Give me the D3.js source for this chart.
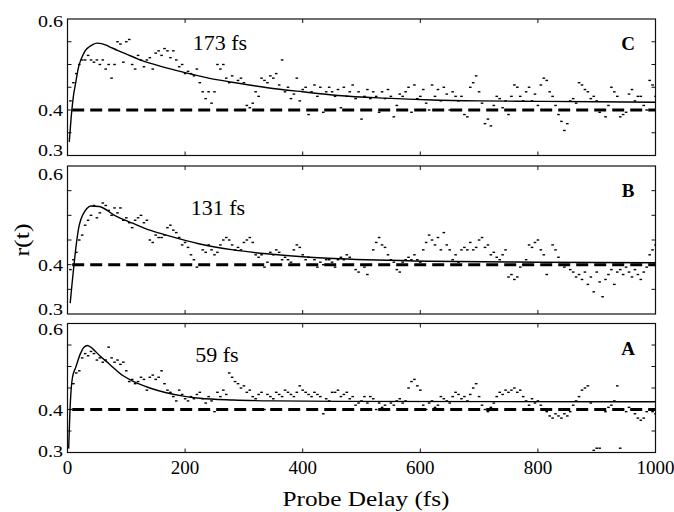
<!DOCTYPE html>
<html><head><meta charset="utf-8">
<script src="https://cdn.jsdelivr.net/npm/d3@7"></script>
<style>body{margin:0;background:#fff}svg{display:block}svg text{font-family:'Liberation Serif','Times New Roman',serif}</style>
</head><body>
<svg id="c" width="674" height="512"></svg>
<script>
// ---- data ----
const xTicks = [0, 200, 400, 600, 800, 1000];
const yTickLabels = [0.3, 0.4, 0.6];
const yMinorTicks = [0.35, 0.4, 0.45, 0.5, 0.55];
const baseline = 0.4;
const panelNames = ["C", "B", "A"];
const lifetimes = ["173 fs", "131 fs", "59 fs"];
const dataStep = 5; // fs between samples, t = 5..1000

const dataC = [
0.42,0.46,0.48,0.50,0.51,0.51,0.52,0.51,0.505,0.51,0.50,0.51,0.49,0.50,0.47,0.50,0.55,0.545,0.505,0.55,
0.555,0.50,0.49,0.52,0.51,0.495,0.51,0.515,0.49,0.525,0.53,0.52,0.535,0.53,0.515,0.53,0.51,0.495,0.50,0.48,
0.485,0.48,0.475,0.49,0.46,0.44,0.425,0.44,0.415,0.44,0.50,0.49,0.50,0.47,0.46,0.475,0.40,0.465,0.47,0.46,
0.41,0.405,0.415,0.44,0.43,0.47,0.465,0.46,0.475,0.47,0.48,0.455,0.51,0.44,0.45,0.425,0.435,0.47,0.42,0.445,
0.45,0.39,0.44,0.455,0.43,0.45,0.395,0.44,0.45,0.44,0.43,0.445,0.405,0.45,0.43,0.44,0.455,0.425,0.44,0.38,
0.43,0.445,0.425,0.44,0.43,0.395,0.44,0.425,0.445,0.43,0.385,0.41,0.435,0.43,0.44,0.45,0.395,0.455,0.425,0.43,
0.445,0.415,0.40,0.455,0.43,0.445,0.42,0.45,0.435,0.40,0.44,0.43,0.42,0.43,0.39,0.385,0.45,0.46,0.475,0.44,
0.415,0.37,0.38,0.365,0.41,0.43,0.425,0.405,0.42,0.39,0.43,0.455,0.45,0.43,0.42,0.44,0.45,0.42,0.435,0.41,
0.455,0.47,0.465,0.44,0.43,0.41,0.39,0.375,0.355,0.37,0.42,0.425,0.415,0.46,0.455,0.445,0.44,0.425,0.43,0.42,
0.395,0.40,0.385,0.41,0.45,0.44,0.43,0.385,0.39,0.395,0.435,0.445,0.42,0.43,0.43,0.41,0.40,0.465,0.455,0.43
];
const dataB = [
0.39,0.41,0.425,0.45,0.46,0.48,0.49,0.50,0.52,0.495,0.505,0.525,0.52,0.51,0.50,0.515,0.505,0.515,0.49,0.495,
0.485,0.475,0.49,0.495,0.50,0.485,0.49,0.45,0.445,0.46,0.455,0.455,0.46,0.475,0.48,0.47,0.465,0.455,0.44,0.445,
0.435,0.42,0.41,0.395,0.40,0.43,0.425,0.44,0.43,0.42,0.425,0.44,0.45,0.455,0.45,0.44,0.43,0.435,0.43,0.445,
0.45,0.455,0.445,0.42,0.415,0.42,0.395,0.405,0.425,0.42,0.43,0.425,0.41,0.415,0.41,0.405,0.43,0.44,0.435,0.42,
0.41,0.415,0.40,0.41,0.395,0.405,0.40,0.41,0.41,0.405,0.395,0.41,0.415,0.41,0.42,0.415,0.40,0.39,0.385,0.40,
0.395,0.38,0.40,0.43,0.445,0.455,0.44,0.435,0.42,0.41,0.405,0.39,0.385,0.405,0.41,0.415,0.41,0.42,0.41,0.405,
0.43,0.445,0.46,0.45,0.44,0.455,0.43,0.465,0.44,0.43,0.41,0.42,0.405,0.43,0.435,0.43,0.445,0.43,0.435,0.45,
0.455,0.435,0.44,0.42,0.425,0.415,0.41,0.42,0.43,0.375,0.38,0.37,0.375,0.395,0.40,0.41,0.44,0.435,0.445,0.45,
0.43,0.42,0.38,0.40,0.44,0.43,0.415,0.40,0.395,0.40,0.39,0.385,0.375,0.38,0.37,0.385,0.36,0.375,0.345,0.385,
0.365,0.335,0.37,0.38,0.39,0.36,0.385,0.39,0.38,0.395,0.385,0.375,0.39,0.38,0.37,0.385,0.395,0.42,0.43,0.44
];
const dataA = [
0.40,0.46,0.485,0.49,0.52,0.53,0.525,0.535,0.53,0.515,0.52,0.51,0.515,0.545,0.52,0.51,0.515,0.505,0.51,0.49,
0.465,0.47,0.46,0.465,0.475,0.47,0.445,0.475,0.48,0.47,0.475,0.49,0.46,0.445,0.44,0.43,0.42,0.445,0.435,0.425,
0.42,0.43,0.425,0.435,0.44,0.425,0.415,0.43,0.42,0.395,0.44,0.43,0.445,0.435,0.485,0.475,0.465,0.46,0.45,0.455,
0.44,0.445,0.43,0.425,0.435,0.44,0.40,0.435,0.43,0.425,0.44,0.435,0.43,0.445,0.44,0.435,0.43,0.44,0.455,0.445,
0.44,0.435,0.43,0.44,0.435,0.43,0.39,0.425,0.42,0.44,0.44,0.445,0.43,0.435,0.44,0.425,0.43,0.41,0.415,0.42,
0.43,0.415,0.43,0.425,0.40,0.415,0.405,0.41,0.40,0.415,0.41,0.42,0.425,0.415,0.42,0.45,0.465,0.47,0.455,0.445,
0.41,0.40,0.415,0.42,0.405,0.41,0.43,0.425,0.42,0.415,0.43,0.44,0.435,0.425,0.43,0.42,0.435,0.45,0.46,0.43,
0.41,0.40,0.395,0.405,0.415,0.43,0.44,0.435,0.445,0.44,0.445,0.45,0.44,0.445,0.43,0.42,0.41,0.425,0.415,0.42,
0.41,0.40,0.395,0.385,0.38,0.39,0.385,0.38,0.39,0.385,0.395,0.41,0.42,0.43,0.445,0.45,0.455,0.415,0.305,0.31,
0.31,0.40,0.395,0.405,0.41,0.42,0.455,0.31,0.40,0.395,0.405,0.40,0.39,0.38,0.375,0.38,0.395,0.40,0.395,0.39
];

// fitted curves as [t, r]
const fitC = [[3,0.33],[6,0.38],[10,0.43],[14,0.46],[18,0.49],[22,0.508],[26,0.52],[30,0.53],[36,0.538],[42,0.543],[50,0.547],[58,0.546],[70,0.54],[85,0.531],[100,0.523],[120,0.512],[140,0.503],[170,0.492],[200,0.482],[240,0.47],[280,0.461],[340,0.449],[400,0.44],[460,0.432],[540,0.426],[620,0.422],[700,0.42],[800,0.419],[900,0.418],[1000,0.417]];
const fitB = [[4.6,0.322],[20,0.48],[33,0.514],[40,0.519],[54,0.518],[80,0.50],[111,0.484],[140,0.47],[168,0.46],[225,0.442],[282,0.43],[339,0.422],[400,0.416],[463,0.412],[617,0.407],[800,0.405],[1000,0.404]];
const fitA = [[2,0.309],[5,0.42],[8.5,0.475],[14,0.498],[22,0.53],[28,0.545],[34,0.549],[43,0.541],[54,0.526],[71,0.506],[94,0.479],[111,0.466],[140,0.45],[168,0.439],[197,0.431],[225,0.426],[282,0.422],[350,0.42],[463,0.419],[1000,0.418]];

// ---- drawing ----
const svg = d3.select("#c");
const x = d3.scaleLinear().domain([0, 1000]).range([67.5, 655.5]);
const panels = [
  {name: panelNames[0], life: lifetimes[0], data: dataC, fit: fitC, top: 19, bottom: 155.5, lifeX: 220, lifeY: 50, nameY: 50, lab: {0.6: 8, 0.4: 6, 0.3: 0}},
  {name: panelNames[1], life: lifetimes[1], data: dataB, fit: fitB, top: 166, bottom: 314, lifeX: 218, lifeY: 215, nameY: 197, lab: {0.6: 14, 0.4: 6, 0.3: 1}},
  {name: panelNames[2], life: lifetimes[2], data: dataA, fit: fitA, top: 323.5, bottom: 452.5, lifeX: 217, lifeY: 362, nameY: 355, lab: {0.6: 11, 0.4: 6, 0.3: 4}}
];

panels.forEach((p, i) => {
  const y = d3.scaleLinear().domain([0.3, 0.6]).range([p.bottom, p.top]);
  const g = svg.append("g");
  const clipId = "clip" + i;
  svg.append("clipPath").attr("id", clipId).append("rect")
    .attr("x", x(0)).attr("y", p.top).attr("width", x(1000) - x(0)).attr("height", p.bottom - p.top);

  // frame
  g.append("rect").attr("x", x(0)).attr("y", p.top).attr("width", x(1000) - x(0)).attr("height", p.bottom - p.top)
    .attr("fill", "none").attr("stroke", "#111").attr("stroke-width", 1.2);

  // inward ticks
  const tl = 4;
  yMinorTicks.forEach(v => {
    g.append("line").attr("x1", x(0)).attr("x2", x(0) + tl).attr("y1", y(v)).attr("y2", y(v)).attr("stroke", "#111");
    g.append("line").attr("x1", x(1000)).attr("x2", x(1000) - tl).attr("y1", y(v)).attr("y2", y(v)).attr("stroke", "#111");
  });
  xTicks.slice(1, -1).forEach(t => {
    g.append("line").attr("x1", x(t)).attr("x2", x(t)).attr("y1", p.top).attr("y2", p.top + tl).attr("stroke", "#111");
    g.append("line").attr("x1", x(t)).attr("x2", x(t)).attr("y1", p.bottom).attr("y2", p.bottom - tl).attr("stroke", "#111");
  });

  // y tick labels
  yTickLabels.forEach(v => {
    g.append("text").attr("x", 63).attr("y", y(v) + p.lab[v]).attr("text-anchor", "end")
      .attr("font-size", 16).attr("textLength", 25).attr("lengthAdjust", "spacingAndGlyphs").text(v.toFixed(1));
  });

  const inner = g.append("g").attr("clip-path", `url(#${clipId})`);

  // dashed baseline
  inner.append("line").attr("x1", x(8)).attr("x2", x(1000)).attr("y1", y(baseline)).attr("y2", y(baseline))
    .attr("stroke", "#000").attr("stroke-width", 3).attr("stroke-dasharray", "12,6");

  // data points (short dashes)
  inner.selectAll("rect.pt").data(p.data).join("rect").attr("class", "pt")
    .attr("x", (d, k) => x((k + 1) * dataStep) - 1.3)
    .attr("y", d => y(d) - 0.7)
    .attr("width", 2.6).attr("height", 1.4).attr("fill", "#000");

  // fit curve
  const line = d3.line().x(d => x(d[0])).y(d => y(d[1])).curve(d3.curveMonotoneX);
  inner.append("path").attr("d", line(p.fit)).attr("fill", "none").attr("stroke", "#000").attr("stroke-width", 1.4);

  // annotations
  g.append("text").attr("x", p.lifeX).attr("y", p.lifeY).attr("text-anchor", "middle")
    .attr("font-size", 22).text(p.life);
  g.append("text").attr("x", 628).attr("y", p.nameY).attr("text-anchor", "middle")
    .attr("font-size", 19).attr("font-weight", "bold").text(p.name);
});

// x tick labels under bottom panel
xTicks.forEach(t => {
  svg.append("text").attr("x", x(t)).attr("y", 473.5).attr("text-anchor", "middle")
    .attr("font-size", 19).text(t);
});

// axis titles
svg.append("text").attr("x", 366).attr("y", 506).attr("text-anchor", "middle")
  .attr("font-size", 20).attr("textLength", 167).attr("lengthAdjust", "spacingAndGlyphs").text("Probe Delay (fs)");
svg.append("text").attr("transform", "translate(29,240) rotate(-90)").attr("text-anchor", "middle")
  .attr("font-size", 21).attr("textLength", 33).attr("lengthAdjust", "spacingAndGlyphs").text("r(t)");
</script>
</body></html>
